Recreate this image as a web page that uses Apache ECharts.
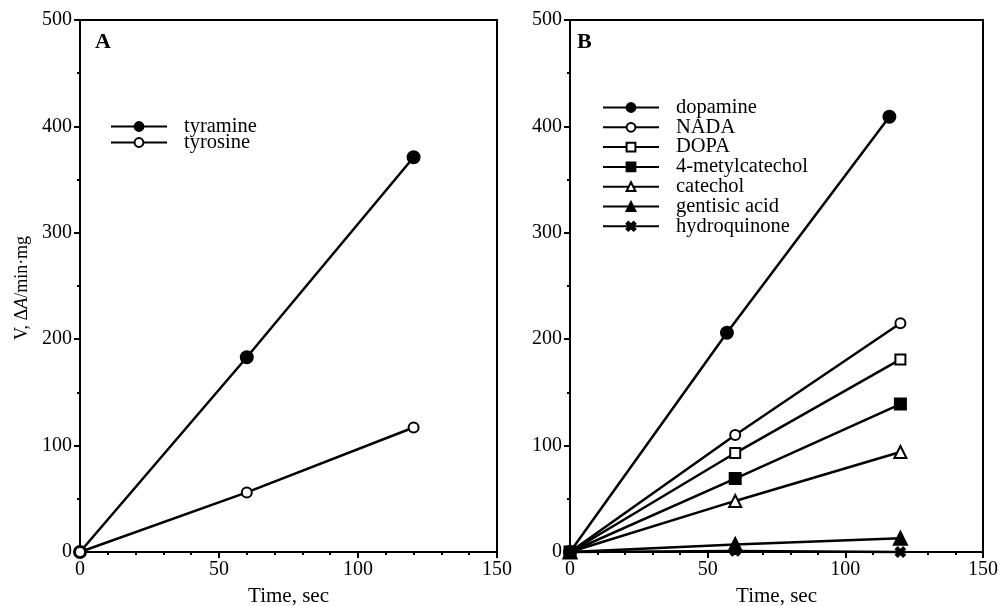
<!DOCTYPE html>
<html><head><meta charset="utf-8">
<script src="https://cdn.jsdelivr.net/npm/echarts@6/dist/echarts.min.js"></script>
<style>html,body{margin:0;padding:0;background:#fff}#c{width:1001px;height:606px}</style>
</head><body><div id="c"></div>
<script>
// Panel A
const tyramine = [[0, 0], [60, 183], [120, 371]];
const tyrosine = [[0, 0], [60, 56], [120, 117]];
// Panel B
const dopamine = [[0, 0], [57, 206], [116, 409]];
const nada = [[0, 0], [60, 110], [120, 215]];
const dopa = [[0, 0], [60, 93], [120, 181]];
const metylcatechol = [[0, 0], [60, 69], [120, 139]];
const catechol = [[0, 0], [60, 48], [120, 94]];
const gentisic = [[0, 0], [60, 7], [120, 13]];
const hydroquinone = [[0, 0], [60, 1], [120, 0]];

const legendA = ['tyramine', 'tyrosine'];
const legendB = ['dopamine', 'NADA', 'DOPA', '4-metylcatechol', 'catechol', 'gentisic acid', 'hydroquinone'];
const xTicks = [0, 50, 100, 150];
const yTicks = [0, 100, 200, 300, 400, 500];

const FONT = 'Liberation Serif';
const xMark = 'path://M0,2 L2,0 L5,3 L8,0 L10,2 L7,5 L10,8 L8,10 L5,7 L2,10 L0,8 L3,5 Z';

function xAxis(gi) {
  return {
    type: 'value', gridIndex: gi, min: xTicks[0], max: xTicks[xTicks.length - 1], interval: 50,
    name: 'Time, sec', nameLocation: 'middle', nameGap: 34,
    nameTextStyle: { fontFamily: FONT, fontSize: 21, color: '#000' },
    axisLine: { show: true, onZero: false, lineStyle: { color: '#000', width: 2 } },
    axisTick: { show: true, length: 6, lineStyle: { color: '#000', width: 2 } },
    minorTick: { show: true, splitNumber: 5, length: 3, lineStyle: { color: '#000', width: 2 } },
    splitLine: { show: false },
    axisLabel: { fontFamily: FONT, fontSize: 20, color: '#000', margin: 8 }
  };
}
function yAxis(gi) {
  return {
    type: 'value', gridIndex: gi, min: yTicks[0], max: yTicks[yTicks.length - 1], interval: 100,
    axisLine: { show: true, onZero: false, lineStyle: { color: '#000', width: 2 } },
    axisTick: { show: true, length: 6, lineStyle: { color: '#000', width: 2 } },
    minorTick: { show: true, splitNumber: 2, length: 3, lineStyle: { color: '#000', width: 2 } },
    splitLine: { show: false },
    axisLabel: { fontFamily: FONT, fontSize: 20, color: '#000', margin: 8 }
  };
}
function ser(name, data, gi, symbol, filled, size) {
  return {
    name, type: 'line', data, xAxisIndex: gi, yAxisIndex: gi,
    symbol, symbolSize: size || 10, showSymbol: true, clip: false,
    lineStyle: { color: '#000', width: 2.5 },
    itemStyle: { color: filled ? '#000' : '#fff', borderColor: '#000', borderWidth: 2 },
    emphasis: { disabled: true }, animation: false
  };
}

const chart = echarts.init(document.getElementById('c'), null, { renderer: 'canvas' });
chart.setOption({
  backgroundColor: '#fff',
  animation: false,
  grid: [
    { left: 80, right: 504, top: 20, bottom: 54, show: true, borderColor: '#000', borderWidth: 2, outerBoundsMode: 'none', containLabel: false },
    { left: 570, right: 18, top: 20, bottom: 54, show: true, borderColor: '#000', borderWidth: 2, outerBoundsMode: 'none', containLabel: false }
  ],
  xAxis: [xAxis(0), xAxis(1)],
  yAxis: [yAxis(0), yAxis(1)],
  legend: [
    {
      data: legendA, left: 105, top: 111, orient: 'vertical', itemWidth: 56, itemHeight: 11, itemGap: -5,
      textStyle: { fontFamily: FONT, fontSize: 20.5, color: '#000', padding: [0, 0, 0, 12] }, selectedMode: false
    },
    {
      data: legendB, left: 597, top: 92, orient: 'vertical', itemWidth: 56, itemHeight: 11, itemGap: -1.2,
      textStyle: { fontFamily: FONT, fontSize: 20.5, color: '#000', padding: [0, 0, 0, 12] }, selectedMode: false
    }
  ],
  graphic: [
    { type: 'text', left: 95, top: 31, style: { text: 'A', fontFamily: FONT, fontSize: 22, fontWeight: 'bold', fill: '#000' } },
    { type: 'text', left: 577, top: 31, style: { text: 'B', fontFamily: FONT, fontSize: 22, fontWeight: 'bold', fill: '#000' } },
    {
      type: 'text', x: 13, y: 288, rotation: Math.PI / 2,
      style: {
        text: '{a|V, Δ}{b|A}{a|/min·mg}', align: 'center', verticalAlign: 'top',
        rich: {
          a: { fontFamily: FONT, fontSize: 18, fill: '#000' },
          b: { fontFamily: FONT, fontSize: 18, fontStyle: 'italic', fill: '#000' }
        }
      }
    }
  ],
  series: [
    ser('tyramine', tyramine, 0, 'circle', true, 12),
    ser('tyrosine', tyrosine, 0, 'circle', false, 10),
    ser('dopamine', dopamine, 1, 'circle', true, 12),
    ser('NADA', nada, 1, 'circle', false, 10),
    ser('DOPA', dopa, 1, 'rect', false, 10),
    ser('4-metylcatechol', metylcatechol, 1, 'rect', true, 11),
    ser('catechol', catechol, 1, 'triangle', false, 12),
    ser('gentisic acid', gentisic, 1, 'triangle', true, 13),
    ser('hydroquinone', hydroquinone, 1, xMark, true, 9)
  ]
});
</script></body></html>
